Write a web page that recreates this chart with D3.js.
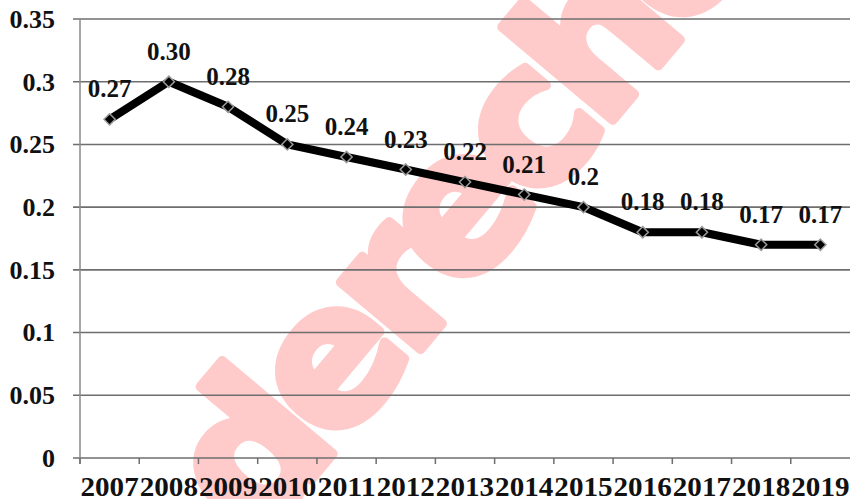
<!DOCTYPE html>
<html>
<head>
<meta charset="utf-8">
<script src="https://cdn.jsdelivr.net/npm/d3@7"></script>
<style>
  body { margin: 0; background: #fff; }
  svg { display: block; }
</style>
</head>
<body>
<div id="chart"></div>
<script>
// Chart data
const years = ["2007", "2008", "2009", "2010", "2011", "2012", "2013", "2014", "2015", "2016", "2017", "2018", "2019"];
const values = [0.27, 0.30, 0.28, 0.25, 0.24, 0.23, 0.22, 0.21, 0.20, 0.18, 0.18, 0.17, 0.17];
const valueLabels = ["0.27", "0.30", "0.28", "0.25", "0.24", "0.23", "0.22", "0.21", "0.2", "0.18", "0.18", "0.17", "0.17"];
const yTicks = [0, 0.05, 0.1, 0.15, 0.2, 0.25, 0.3, 0.35];
const yTickLabels = ["0", "0.05", "0.1", "0.15", "0.2", "0.25", "0.3", "0.35"];

const width = 850;
const height = 499;
const margin = { top: 19, right: 0, bottom: 41, left: 80 };

const svg = d3
  .select("#chart")
  .append("svg")
  .attr("width", width)
  .attr("height", height);

const x = d3.scaleBand().domain(years).range([margin.left, width - margin.right]);
const y = d3.scaleLinear().domain([0, 0.35]).range([height - margin.bottom, margin.top]);

const serif = "'Liberation Serif', 'Times New Roman', serif";

// Watermark (behind the chart)
svg
  .append("text")
  .attr("transform", "translate(466,212) rotate(-50)")
  .attr("text-anchor", "middle")
  .attr("dy", "0.28em")
  .attr("font-family", "'DejaVu Sans', sans-serif")
  .attr("font-weight", "bold")
  .attr("font-size", 190)
  .attr("letter-spacing", -12)
  .attr("fill", "#ffcaca")
  .attr("stroke", "#ffcaca")
  .attr("stroke-width", 10)
  .attr("stroke-linejoin", "round")
  .text("derecho");

// Horizontal gridlines
svg
  .selectAll(".grid")
  .data(yTicks)
  .enter()
  .append("line")
  .attr("class", "grid")
  .attr("x1", margin.left - 7)
  .attr("x2", width)
  .attr("y1", (d) => y(d))
  .attr("y2", (d) => y(d))
  .attr("stroke", "#6e6e6e")
  .attr("stroke-width", 1.6);

// Y axis line
svg
  .append("line")
  .attr("x1", margin.left)
  .attr("x2", margin.left)
  .attr("y1", y(0.35))
  .attr("y2", y(0) + 6)
  .attr("stroke", "#8a8a8a")
  .attr("stroke-width", 1.5);

// X axis ticks at category boundaries
svg
  .selectAll(".xtick")
  .data(years)
  .enter()
  .append("line")
  .attr("class", "xtick")
  .attr("x1", (d) => x(d))
  .attr("x2", (d) => x(d))
  .attr("y1", y(0))
  .attr("y2", y(0) + 6)
  .attr("stroke", "#6e6e6e")
  .attr("stroke-width", 1.5);

// Y tick labels
svg
  .selectAll(".ylabel")
  .data(yTicks)
  .enter()
  .append("text")
  .attr("class", "ylabel")
  .attr("x", 55)
  .attr("y", (d) => y(d))
  .attr("dy", "0.34em")
  .attr("text-anchor", "end")
  .attr("font-family", serif)
  .attr("font-weight", "bold")
  .attr("font-size", 26)
  .attr("fill", "#111")
  .text((d, i) => yTickLabels[i]);

// X tick labels (tightly packed, one per band)
svg
  .selectAll(".xlabel")
  .data(years)
  .enter()
  .append("text")
  .attr("class", "xlabel")
  .attr("x", (d) => x(d) + x.bandwidth() / 2)
  .attr("y", 496)
  .attr("text-anchor", "middle")
  .attr("font-family", serif)
  .attr("font-weight", "bold")
  .attr("font-size", 28)
  .attr("textLength", x.bandwidth() - 1)
  .attr("lengthAdjust", "spacingAndGlyphs")
  .attr("fill", "#111")
  .text((d) => d);

// Data line
const line = d3
  .line()
  .x((d, i) => x(years[i]) + x.bandwidth() / 2)
  .y((d) => y(d));

svg
  .append("path")
  .datum(values)
  .attr("d", line)
  .attr("fill", "none")
  .attr("stroke", "#000")
  .attr("stroke-width", 8)
  .attr("stroke-linejoin", "round");

// Diamond markers
svg
  .selectAll(".marker")
  .data(values)
  .enter()
  .append("path")
  .attr("class", "marker")
  .attr("d", d3.symbol().type(d3.symbolDiamond2).size(80))
  .attr("transform", (d, i) => `translate(${x(years[i]) + x.bandwidth() / 2},${y(d)})`)
  .attr("fill", "#000")
  .attr("stroke", "#9a9a9a")
  .attr("stroke-width", 1.5);

// Data labels
svg
  .selectAll(".vlabel")
  .data(values)
  .enter()
  .append("text")
  .attr("class", "vlabel")
  .attr("x", (d, i) => x(years[i]) + x.bandwidth() / 2)
  .attr("y", (d) => y(d) - 22)
  .attr("text-anchor", "middle")
  .attr("font-family", serif)
  .attr("font-weight", "bold")
  .attr("font-size", 25)
  .attr("fill", "#111")
  .text((d, i) => valueLabels[i]);
</script>
</body>
</html>
